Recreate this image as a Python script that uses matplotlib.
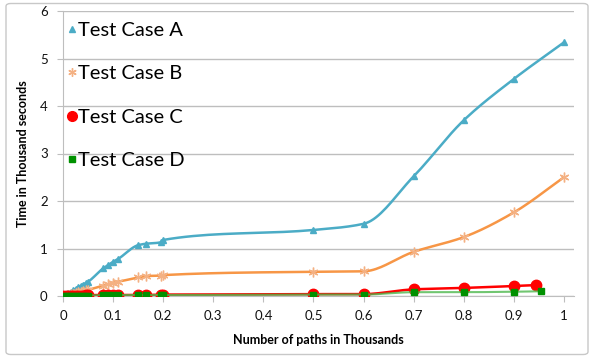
import numpy as np
import matplotlib
matplotlib.use("Agg")
import matplotlib.pyplot as plt
from matplotlib.patches import FancyBboxPatch

plt.rcParams['font.family'] = ['Lato', 'DejaVu Sans']

# ---- data ----
x_ab = [0, 0.005, 0.01, 0.015, 0.02, 0.025, 0.03, 0.035, 0.04, 0.045, 0.05,
        0.08, 0.09, 0.1, 0.11, 0.15, 0.165, 0.195, 0.2, 0.5, 0.6, 0.7, 0.8, 0.9, 1.0]
case_a = [0.0, 0.03, 0.06, 0.09, 0.12, 0.15, 0.18, 0.21, 0.24, 0.27, 0.30,
          0.58, 0.65, 0.72, 0.78, 1.07, 1.10, 1.13, 1.18, 1.39, 1.52, 2.52, 3.70, 4.57, 5.34]
case_b = [0.0, 0.01, 0.02, 0.04, 0.05, 0.06, 0.08, 0.09, 0.10, 0.12, 0.13,
          0.22, 0.25, 0.28, 0.30, 0.39, 0.42, 0.43, 0.44, 0.51, 0.52, 0.93, 1.24, 1.76, 2.50]
x_c = [0, 0.005, 0.01, 0.015, 0.02, 0.025, 0.03, 0.035, 0.04, 0.045, 0.05,
       0.08, 0.09, 0.1, 0.11, 0.15, 0.165, 0.195, 0.2, 0.5, 0.6, 0.7, 0.8, 0.9, 0.945]
case_c = [0.01, 0.01, 0.01, 0.01, 0.01, 0.01, 0.01, 0.01, 0.01, 0.02, 0.02,
          0.02, 0.02, 0.02, 0.02, 0.02, 0.02, 0.03, 0.03, 0.04, 0.04, 0.14, 0.17, 0.21, 0.23]
x_d = [0, 0.005, 0.01, 0.015, 0.02, 0.025, 0.03, 0.035, 0.04, 0.045, 0.05,
       0.08, 0.09, 0.1, 0.11, 0.15, 0.165, 0.195, 0.2, 0.5, 0.6, 0.7, 0.8, 0.9, 0.955]
case_d = [0.01, 0.01, 0.01, 0.01, 0.01, 0.01, 0.01, 0.01, 0.01, 0.01, 0.01,
          0.02, 0.02, 0.02, 0.02, 0.02, 0.02, 0.02, 0.02, 0.03, 0.03, 0.08, 0.08, 0.09, 0.10]
labels = ["Test Case A", "Test Case B", "Test Case C", "Test Case D"]
x_ticks = [0, 0.1, 0.2, 0.3, 0.4, 0.5, 0.6, 0.7, 0.8, 0.9, 1]
x_ticklabels = ["0", "0.1", "0.2", "0.3", "0.4", "0.5", "0.6", "0.7", "0.8", "0.9", "1"]
y_ticks = [0, 1, 2, 3, 4, 5, 6]


def smooth(x, y, n=20):
    """Monotone cubic (Fritsch-Carlson) smoothing of the polyline, for rendering only."""
    x = np.asarray(x, float); y = np.asarray(y, float)
    h = np.diff(x); d = np.diff(y) / h
    m = np.zeros_like(y)
    m[0], m[-1] = d[0], d[-1]
    for i in range(1, len(y) - 1):
        if d[i - 1] * d[i] <= 0:
            m[i] = 0.0
        else:
            w1 = 2 * h[i] + h[i - 1]; w2 = h[i] + 2 * h[i - 1]
            m[i] = (w1 + w2) / (w1 / d[i - 1] + w2 / d[i])
    xs, ys = [], []
    t = np.linspace(0, 1, n, endpoint=False)
    for i in range(len(x) - 1):
        h00 = 2 * t**3 - 3 * t**2 + 1; h10 = t**3 - 2 * t**2 + t
        h01 = -2 * t**3 + 3 * t**2; h11 = t**3 - t**2
        xs.append(x[i] + t * h[i])
        ys.append(h00 * y[i] + h10 * h[i] * m[i] + h01 * y[i + 1] + h11 * h[i] * m[i + 1])
    xs.append([x[-1]]); ys.append([y[-1]])
    return np.concatenate(xs), np.concatenate(ys)


fig = plt.figure(figsize=(5.91, 3.56), dpi=100)
ax = fig.add_axes([63 / 591, 60 / 356, 511 / 591, 285 / 356])

# figure border
fig.patches.append(FancyBboxPatch((6 / 591, 1.5 / 356), 582 / 591, 351 / 356,
                                  boxstyle="round,pad=0,rounding_size=0.008",
                                  transform=fig.transFigure, fill=False, edgecolor="#C8C8C8", linewidth=1.0))

col_a, col_b, col_c, col_d = "#4BACC6", "#F79646", "#FF0000", "#009100"
col_b_mk = "#F4B183"

sx, sy = smooth(x_ab, case_a)
ax.plot(sx, sy, color=col_a, lw=1.8, zorder=3)
ax.plot(x_ab, case_a, ls="none", marker="^", ms=5, color=col_a, zorder=4)

sx, sy = smooth(x_ab, case_b)
ax.plot(sx, sy, color=col_b, lw=1.8, zorder=3)
ax.plot(x_ab, case_b, ls="none", marker=(6, 2, 0), ms=7, mew=1.0, color=col_b_mk, zorder=4)

sx, sy = smooth(x_c, case_c)
ax.plot(sx, sy, color=col_c, lw=1.8, zorder=5)
ax.plot(x_c, case_c, ls="none", marker="o", ms=7.5, color=col_c, zorder=6)

sx, sy = smooth(x_d, case_d)
ax.plot(sx, sy, color="#4DB84D", lw=1.5, alpha=0.8, zorder=7)
ax.plot(x_d, case_d, ls="none", marker="s", ms=5, color=col_d, zorder=8)

# legend handles
h_a, = ax.plot([], [], ls="none", marker="^", ms=4, color=col_a)
h_b, = ax.plot([], [], ls="none", marker=(6, 2, 0), ms=6, mew=1.0, color=col_b_mk)
h_c, = ax.plot([], [], ls="none", marker="o", ms=7, color=col_c)
h_d, = ax.plot([], [], ls="none", marker="s", ms=4, color=col_d)
ax.legend([h_a, h_b, h_c, h_d], labels, loc="upper left", bbox_to_anchor=(68 / 591, 1 - 22 / 356),
          bbox_transform=fig.transFigure, frameon=False, fontsize=14.5, handlelength=0.4,
          handletextpad=0.12, labelspacing=1.3, borderaxespad=0, borderpad=0.0)

ax.set_xlim(0, 1.02)
ax.set_ylim(0, 6)
ax.set_xticks(x_ticks)
ax.set_xticklabels(x_ticklabels)
ax.set_yticks(y_ticks)
ax.grid(axis="y", color="#BEBEBE", lw=1.0)
ax.set_axisbelow(True)
for s in ("top", "right"):
    ax.spines[s].set_visible(False)
for s in ("left", "bottom"):
    ax.spines[s].set_color("#BEBEBE")
ax.tick_params(axis="both", colors="#BEBEBE", labelcolor="#111111", labelsize=9.5, length=4)
ax.tick_params(axis="y", pad=7)
ax.tick_params(axis="x", pad=6)
ax.set_xlabel("Number of paths in Thousands", fontsize=9, fontweight="bold", labelpad=9)
ax.set_ylabel("Time in Thousand seconds", fontsize=9, fontweight="bold", labelpad=8)

fig.savefig("out.png", dpi=100)
